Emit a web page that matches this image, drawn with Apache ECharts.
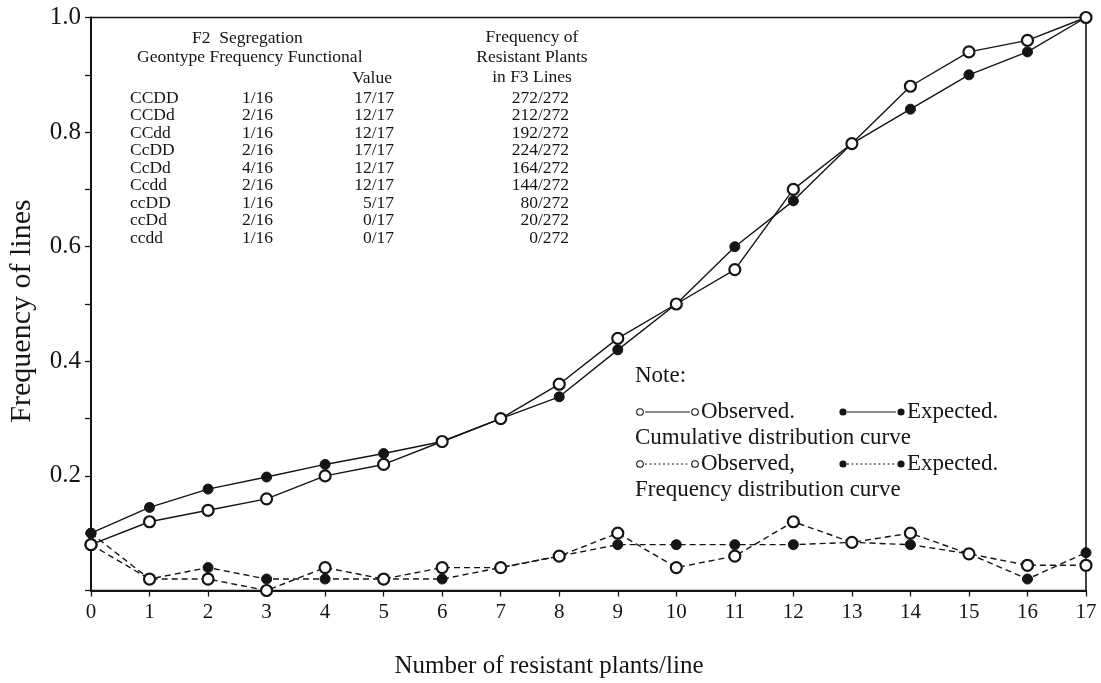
<!DOCTYPE html>
<html>
<head>
<meta charset="utf-8">
<script src="https://cdn.jsdelivr.net/npm/echarts@6/dist/echarts.min.js"></script>
<style>
html,body{margin:0;padding:0;background:#fff;}
#chart{width:1101px;height:683px;}
</style>
</head>
<body>
<div id="chart"></div>
<script>
// ---- data ----
var plantsPerLine = [0,1,2,3,4,5,6,7,8,9,10,11,12,13,14,15,16,17];
var cumObserved = [0.08,0.12,0.14,0.16,0.20,0.22,0.26,0.30,0.36,0.44,0.50,0.56,0.70,0.78,0.88,0.94,0.96,1.00];
var cumExpected = [0.10,0.145,0.177,0.198,0.22,0.239,0.26,0.30,0.338,0.42,0.50,0.60,0.68,0.78,0.84,0.90,0.94,1.00];
var freqObserved = [0.08,0.02,0.02,0.00,0.04,0.02,0.04,0.04,0.06,0.10,0.04,0.06,0.12,0.084,0.10,0.064,0.044,0.044];
var freqExpected = [0.10,0.02,0.04,0.02,0.02,0.02,0.02,0.04,0.06,0.08,0.08,0.08,0.08,0.084,0.08,0.064,0.02,0.066];

var genotypes = ['CCDD','CCDd','CCdd','CcDD','CcDd','Ccdd','ccDD','ccDd','ccdd'];
var segregationFreq = ['1/16','2/16','1/16','2/16','4/16','2/16','1/16','2/16','1/16'];
var functionalValue = ['17/17','12/17','12/17','17/17','12/17','12/17','5/17','0/17','0/17'];
var resistantFreqF3 = ['272/272','212/272','192/272','224/272','164/272','144/272','80/272','20/272','0/272'];

var yTickLabels = ['0.2','0.4','0.6','0.8','1.0'];

// ---- build ----
function pairs(ys){ return plantsPerLine.map(function(x,i){ return [x, ys[i]]; }); }

var INK = '#151515';
var FONT = '"Liberation Serif", "Times New Roman", serif';

var openSym = {symbol:'circle', symbolSize:11, itemStyle:{color:'#fff', borderColor:INK, borderWidth:2.2}};
var fillSym = {symbol:'circle', symbolSize:10, itemStyle:{color:INK, borderColor:INK, borderWidth:1}};

function lineSeries(name, ys, sym, dashed, z){
  return {
    name: name, type:'line', data: pairs(ys), z: z,
    symbol: sym.symbol, symbolSize: sym.symbolSize, itemStyle: sym.itemStyle,
    showAllSymbol: true,
    lineStyle: {color: INK, width: 1.4, type: dashed ? [6,4] : 'solid'},
    animation: false, silent: true
  };
}

var graphics = [];
function txt(x, y, s, size, align){
  graphics.push({type:'text', x:x, y:y, silent:true, style:{text:s, fill:INK, font: size+'px '+FONT, textAlign: align||'left', textVerticalAlign:'middle'}});
}
// table header
txt(192, 38, 'F2  Segregation', 17.5);
txt(137, 57, 'Geontype Frequency Functional', 17.5);
txt(392, 78, 'Value', 17.5, 'right');
txt(532, 37, 'Frequency of', 17.5, 'center');
txt(532, 57, 'Resistant Plants', 17.5, 'center');
txt(532, 77, 'in F3 Lines', 17.5, 'center');
for (var i=0;i<genotypes.length;i++){
  var yy = 98 + 17.5*i;
  txt(130, yy, genotypes[i], 17.5);
  txt(242, yy, segregationFreq[i], 17.5);
  txt(394, yy, functionalValue[i], 17.5, 'right');
  txt(569, yy, resistantFreqF3[i], 17.5, 'right');
}
// note / key
txt(635, 376, 'Note:', 23);
function keyRow(y, dashed, label1, label2){
  var ls = {stroke: INK, lineWidth: dashed?1:1.2, lineDash: dashed?[2,2.5]:null};
  graphics.push({type:'circle', silent:true, shape:{cx:640, cy:y, r:3.3}, style:{fill:'#fff', stroke:INK, lineWidth:1.1}});
  graphics.push({type:'line', silent:true, shape:{x1:645, y1:y, x2:690, y2:y}, style:ls});
  graphics.push({type:'circle', silent:true, shape:{cx:695, cy:y, r:3.3}, style:{fill:'#fff', stroke:INK, lineWidth:1.1}});
  txt(701, y, label1, 23);
  graphics.push({type:'circle', silent:true, shape:{cx:843, cy:y, r:3.6}, style:{fill:INK}});
  graphics.push({type:'line', silent:true, shape:{x1:847, y1:y, x2:896, y2:y}, style:ls});
  graphics.push({type:'circle', silent:true, shape:{cx:901, cy:y, r:3.6}, style:{fill:INK}});
  txt(907, y, label2, 23);
}
keyRow(412, false, 'Observed.', 'Expected.');
txt(635, 438, 'Cumulative distribution curve', 23);
keyRow(464, true, 'Observed,', 'Expected.');
txt(635, 490, 'Frequency distribution curve', 23);
// axis titles
txt(549, 666, 'Number of resistant plants/line', 25, 'center');
graphics.push({type:'text', x:22, y:311, rotation: Math.PI/2, silent:true,
  style:{text:'Frequency of lines', fill:INK, font:'30px '+FONT, textAlign:'center', textVerticalAlign:'middle'}});

var chart = echarts.init(document.getElementById('chart'), null, {renderer:'canvas'});
chart.setOption({
  backgroundColor:'#fff',
  animation:false,
  grid:{left:91, right:15, top:17.5, bottom:92.5, show:true, borderColor:INK, borderWidth:1.6, backgroundColor:'transparent'},
  xAxis:{
    type:'value', min:0, max:17, interval:1,
    axisLine:{show:true, onZero:false, lineStyle:{color:INK, width:2}},
    axisTick:{show:true, inside:false, length:6, lineStyle:{color:INK, width:1.3}},
    axisLabel:{color:INK, fontFamily:FONT, fontSize:21, margin:11},
    splitLine:{show:false}
  },
  yAxis:{
    type:'value', min:0, max:1, interval:0.1,
    axisLine:{show:true, onZero:false, lineStyle:{color:INK, width:2}},
    axisTick:{show:true, inside:false, length:6, lineStyle:{color:INK, width:1.3}},
    axisLabel:{color:INK, fontFamily:FONT, fontSize:25, margin:10,
      formatter:function(v){
        var s = (Math.round(v*10)/10).toFixed(1);
        return yTickLabels.indexOf(s) >= 0 ? s : '';
      }},
    splitLine:{show:false}
  },
  series:[
    lineSeries('Cumulative expected', cumExpected, fillSym, false, 3),
    lineSeries('Cumulative observed', cumObserved, openSym, false, 4),
    lineSeries('Frequency expected', freqExpected, fillSym, true, 3),
    lineSeries('Frequency observed', freqObserved, openSym, true, 4)
  ],
  graphic: graphics
});
</script>
</body>
</html>
